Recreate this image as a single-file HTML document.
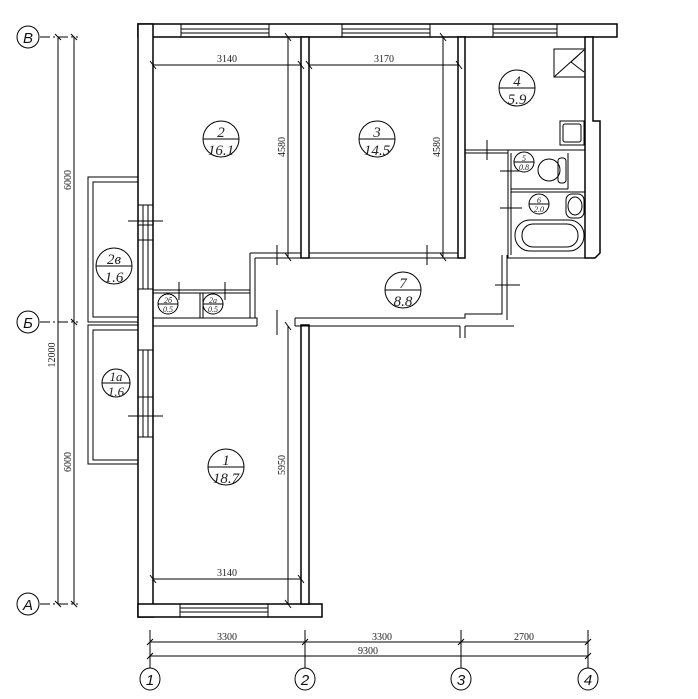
<!DOCTYPE html>
<html><head><meta charset="utf-8"><style>
html,body{margin:0;padding:0;background:#fff;width:698px;height:699px;overflow:hidden}
svg{display:block}
text{font-family:"Liberation Serif",serif;fill:#222}
.l{font-family:"Liberation Sans",sans-serif;font-style:italic;fill:#111}
</style></head><body>
<svg width="698" height="699" viewBox="0 0 698 699" xmlns="http://www.w3.org/2000/svg">
<g fill="#fff" stroke="#000" stroke-width="1.5">
<!-- top wall -->
<rect x="138" y="24" width="479" height="13"/>
<!-- left wall -->
<rect x="138" y="24" width="15" height="593"/>
<!-- room1 bottom wall -->
<rect x="138" y="604" width="184" height="13"/>
<!-- partitions -->
<rect x="301" y="37" width="8" height="221"/>
<rect x="458" y="37" width="7" height="221"/>
<rect x="301" y="325" width="8" height="279"/>
<!-- right wall -->
<path d="M585 37 V258 H595 L600 253 V121 H593 V37 Z"/>
</g>
<!-- windows top -->
<g fill="#fff" stroke="#000" stroke-width="1">
<rect x="181" y="25" width="88" height="11" stroke="none"/>
<rect x="342" y="25" width="88" height="11" stroke="none"/>
<rect x="493" y="25" width="64" height="11" stroke="none"/>
<rect x="180" y="605" width="88" height="11" stroke="none"/>
<rect x="139" y="205" width="13" height="84" stroke="none"/>
<rect x="139" y="350" width="13" height="87" stroke="none"/>
</g>
<g stroke="#000" stroke-width="1" fill="none">
<path d="M181 24V37M269 24V37M342 24V37M430 24V37M493 24V37M557 24V37"/>
<path d="M181 29H269M181 33H269M342 29H430M342 33H430M493 29H557M493 33H557"/>
<path d="M180 604V617M268 604V617M180 608H268M180 612H268"/>
<path d="M143 205V289M148 205V289M138 205H153M138 289H153M138 240H153M138 225H153"/>
<path d="M143 350V437M148 350V437M138 350H153M138 437H153M138 397H153"/>
<path d="M128 221H163M128 416H163"/>
<!-- balconies -->
<path d="M138 177H88V322H138M138 182H93V317H138"/>
<path d="M138 325H88V464H138M138 330H93V460H138"/>
<!-- room 2 closets and corridor -->
<path d="M153 290H250M153 293H250M203 293V318M200 293V318"/>
<path d="M179 282V300M225 282V300"/>
<path d="M153 318H257V326M153 326H257"/>
<path d="M250 253V318M255 258V318M250 253H301M255 258H301"/>
<path d="M309 253H458M309 258H458"/>
<path d="M277 245V265M277 310V335M427 245V265"/>
<path d="M295 318H465V314H502V255M507 255V320M465 314V318"/>
<path d="M295 326H460M465 326H514M295 318V326M460 326V338M465 326V338M257 318V326"/>
<path d="M495 285H520"/>
<!-- kitchen/bath -->
<path d="M465 150H508M465 153H508M487 140V160"/>
<path d="M508 150H585M511 153V255M508 150V258M507 258H585M511 192H585M511 189H568M568 153V189"/>
<path d="M500 171H522M500 208H522"/>
<rect x="554" y="49" width="31" height="28"/>
<path d="M554 77L584 50L571 62L584 72"/>
<rect x="560" y="121" width="24" height="24"/>
<rect x="563" y="124" width="18" height="18" rx="2"/>
<ellipse cx="549" cy="170" rx="11" ry="11"/>
<rect x="558" y="158" width="8" height="25" rx="3"/>
<rect x="566" y="194" width="18" height="24" rx="6"/>
<ellipse cx="575" cy="206" rx="7" ry="9"/>
<rect x="515" y="220" width="69" height="31" rx="15"/>
<rect x="522" y="224" width="56" height="23" rx="11"/>
<!-- dimension lines -->
<path d="M153 65H301M309 65H459M153 579H301M288 37V257M443 37V257M288 326V604"/>
<path d="M58 37V604M74 37V604M40 37H78M40 604H78M40 322H78" stroke-dasharray="10 3 2 3"/>
<path d="M58 37V604M74 37V604"/>
<path d="M150 642H588M150 656H588M150 630V670M305 630V670M461 630V670M588 630V670"/>
</g>
<g stroke="#000" stroke-width="1">
<path d="M150 61L156 69M298 61L304 69M306 61L312 69M456 61L462 69M150 575L156 583M298 575L304 583M285 33L291 41M285 253L291 261M440 33L446 41M440 253L446 261M285 322L291 330M285 600L291 608M55 34L61 40M71 34L77 40M55 601L61 607M71 601L77 607M71 319L77 325"/>
<path d="M147 645L153 639M302 645L308 639M458 645L464 639M585 645L591 639M147 659L153 653M585 659L591 653"/>
</g>
<!-- axis circles -->
<g fill="#fff" stroke="#000" stroke-width="1">
<circle cx="28" cy="37" r="11"/><circle cx="28" cy="322" r="11"/><circle cx="28" cy="604" r="11"/>
<ellipse cx="150" cy="679" rx="10" ry="11"/><ellipse cx="305" cy="679" rx="10" ry="11"/><ellipse cx="461" cy="679" rx="10" ry="11"/><ellipse cx="588" cy="679" rx="10" ry="11"/>
</g>
<g font-size="15" text-anchor="middle" class="l">
<text x="28" y="43" class="l">В</text><text x="28" y="328" class="l">Б</text><text x="28" y="610" class="l">А</text>
<text x="150" y="685" class="l">1</text><text x="305" y="685" class="l">2</text><text x="461" y="685" class="l">3</text><text x="588" y="685" class="l">4</text>
</g>
<g font-size="10" text-anchor="middle">
<text x="227" y="62">3140</text><text x="384" y="62">3170</text><text x="227" y="576">3140</text>
<text x="227" y="640">3300</text><text x="382" y="640">3300</text><text x="524" y="640">2700</text><text x="368" y="654">9300</text>
<text transform="translate(285,147) rotate(-90)">4580</text>
<text transform="translate(440,147) rotate(-90)" fill="#235">4580</text>
<text transform="translate(285,465) rotate(-90)">5950</text>
<text transform="translate(71,180) rotate(-90)">6000</text>
<text transform="translate(71,462) rotate(-90)">6000</text>
<text transform="translate(55,355) rotate(-90)">12000</text>
</g>
<!-- room labels -->
<g fill="#fff" stroke="#000" stroke-width="1">
<circle cx="221" cy="139" r="18"/><circle cx="377" cy="139" r="18"/><circle cx="517" cy="88" r="18"/>
<circle cx="403" cy="290" r="18"/><circle cx="226" cy="467" r="18"/><circle cx="114" cy="266" r="18"/>
<circle cx="116" cy="383" r="14"/><circle cx="168" cy="304" r="10"/><circle cx="213" cy="304" r="10"/>
<circle cx="524" cy="162" r="10"/><circle cx="539" cy="204" r="10"/>
</g>
<g stroke="#000" stroke-width="1">
<path d="M203 139H239M359 139H395M499 88H535M385 290H421M208 467H244M96 266H132M102 383H130M158 304H178M203 304H223M514 162H534M529 204H549"/>
</g>
<g class="l" text-anchor="middle" font-size="15">
<text x="221" y="137">2</text><text x="221" y="155">16.1</text>
<text x="377" y="137">3</text><text x="377" y="155">14.5</text>
<text x="517" y="86">4</text><text x="517" y="104">5.9</text>
<text x="403" y="288">7</text><text x="403" y="306">8.8</text>
<text x="226" y="465">1</text><text x="226" y="483">18.7</text>
<text x="114" y="264">2в</text><text x="114" y="282">1.6</text>
<text x="116" y="381" font-size="13">1а</text><text x="116" y="396" font-size="13">1.6</text>
</g>
<g class="l" text-anchor="middle" font-size="8">
<text x="168" y="303">2б</text><text x="168" y="312">0.5</text>
<text x="213" y="303">2а</text><text x="213" y="312">0.5</text>
<text x="524" y="161">5</text><text x="524" y="170">0.8</text>
<text x="539" y="203">6</text><text x="539" y="212">2.0</text>
</g>
</svg>
</body></html>
